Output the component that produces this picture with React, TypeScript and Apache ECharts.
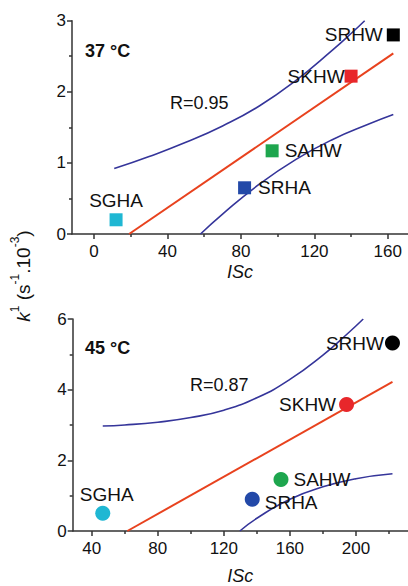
import React, { useEffect, useRef } from "react";
import * as echarts from "echarts";

// ---- Data ----
const names = ["SGHA", "SRHA", "SAHW", "SKHW", "SRHW"];
const colors = ["#1fb7d3", "#2349a8", "#1ea64e", "#e8272b", "#000000"];

// 37 °C panel
const x37 = [12, 82, 97, 140, 163];
const y37 = [0.2, 0.65, 1.17, 2.22, 2.8];
const fit37 = [[19.1, 0], [163, 2.54]];
const upper37 = [[11, 0.92], [30, 1.09], [50, 1.29], [70, 1.52], [90, 1.8], [110, 2.16], [130, 2.59], [140, 2.82], [147.4, 3.0]];
const lower37 = [[58, 0], [70, 0.28], [90, 0.7], [110, 1.05], [130, 1.33], [150, 1.55], [163, 1.68]];

// 45 °C panel
const x45 = [46.7, 137.2, 154.6, 194.3, 222.1];
const y45 = [0.5, 0.9, 1.46, 3.58, 5.32];
const fit45 = [[61.6, 0], [222.1, 4.22]];
const upper45 = [[46.7, 2.97], [60, 3.0], [80, 3.08], [100, 3.21], [120, 3.42], [140, 3.77], [160, 4.29], [180, 4.98], [195, 5.59], [204.4, 6.0]];
const lower45 = [[129.7, 0], [140, 0.36], [160, 0.9], [180, 1.25], [200, 1.48], [222.1, 1.62]];

const xTicks37 = [0, 40, 80, 120, 160];
const xMinor37 = [20, 60, 100, 140];
const xTicks45 = [40, 80, 120, 160, 200];
const xMinor45 = [60, 100, 140, 180, 220];

// label layout per point
const labelPos37: any[] = [
  { position: "top", distance: 3 },
  { position: "right", distance: 7 },
  { position: "right", distance: 6 },
  { position: "left", distance: 0 },
  { position: "left", distance: 4 },
];
const labelPos45: any[] = [
  { position: "top", distance: 2, offset: [4, 0] },
  { position: "right", distance: 5, offset: [0, 3] },
  { position: "right", distance: 5 },
  { position: "left", distance: 3 },
  { position: "left", distance: 1 },
];

const FONT = "Liberation Sans, Arial, sans-serif";
const AXIS_COLOR = "#333333";
const TEXT = "#111111";
const RED = "#e8421e";
const BLUE = "#35359a";

function buildPoints(xs: number[], ys: number[], lp: any[]) {
  return xs.map((x, i) => ({
    value: [x, ys[i]],
    name: names[i],
    itemStyle: { color: colors[i], opacity: 1 },
    label: {
      show: true,
      formatter: names[i],
      color: TEXT,
      fontSize: 19,
      fontFamily: FONT,
      ...lp[i],
    },
  }));
}

function xAxisMain(gridIndex: number, min: number, max: number, ticks: number[], nameGap: number) {
  return {
    type: "value",
    gridIndex,
    min,
    max,
    name: "ISc",
    nameLocation: "middle",
    nameGap,
    nameTextStyle: { fontSize: 18, fontStyle: "italic", color: TEXT, fontFamily: FONT },
    axisLine: { show: true, onZero: false, lineStyle: { color: AXIS_COLOR, width: 1.5 } },
    axisTick: { show: true, customValues: ticks, length: 5, lineStyle: { color: AXIS_COLOR, width: 1.5 } },
    axisLabel: { customValues: ticks, fontSize: 17, color: TEXT, margin: 9, fontFamily: FONT },
    splitLine: { show: false },
  };
}

function xAxisMinor(gridIndex: number, min: number, max: number, ticks: number[]) {
  return {
    type: "value",
    gridIndex,
    min,
    max,
    position: "bottom",
    axisLine: { show: false, onZero: false },
    axisTick: { show: true, customValues: ticks, length: 3, lineStyle: { color: AXIS_COLOR, width: 1.5 } },
    axisLabel: { show: false },
    splitLine: { show: false },
  };
}

function yAxisDef(gridIndex: number, max: number, interval: number) {
  return {
    type: "value",
    gridIndex,
    min: 0,
    max,
    interval,
    axisLine: { show: true, onZero: false, lineStyle: { color: AXIS_COLOR, width: 1.5 } },
    axisTick: { show: true, length: 5, lineStyle: { color: AXIS_COLOR, width: 1.5 } },
    minorTick: { show: true, splitNumber: 2, length: 3, lineStyle: { color: AXIS_COLOR, width: 1.5 } },
    axisLabel: { fontSize: 17, color: TEXT, margin: 6, fontFamily: FONT },
    splitLine: { show: false },
    minorSplitLine: { show: false },
  };
}

function lineSeries(data: number[][], xi: number, yi: number, color: string, width: number, smooth: boolean) {
  return {
    type: "line",
    xAxisIndex: xi,
    yAxisIndex: yi,
    data,
    smooth,
    showSymbol: false,
    symbol: "none",
    lineStyle: { color, width },
    z: 2,
    silent: true,
  };
}

export default function App() {
  const ref = useRef<HTMLDivElement>(null);
  useEffect(() => {
    if (!ref.current) return;
    const chart = echarts.init(ref.current, null, { renderer: "svg" });
    chart.setOption({
      animation: false,
      backgroundColor: "#ffffff",
      textStyle: { fontFamily: FONT },
      grid: [
        { left: 72, right: 0, top: 20.7, height: 213.3 },
        { left: 72.7, right: 0, top: 319, height: 213.7 },
      ],
      xAxis: [
        xAxisMain(0, -12, 171, xTicks37, 29),
        xAxisMinor(0, -12, 171, xMinor37),
        xAxisMain(1, 28.5, 231.5, xTicks45, 36),
        xAxisMinor(1, 28.5, 231.5, xMinor45),
      ],
      yAxis: [yAxisDef(0, 3, 1), yAxisDef(1, 6, 2)],
      series: [
        lineSeries(upper37, 0, 0, BLUE, 1.6, true),
        lineSeries(lower37, 0, 0, BLUE, 1.6, true),
        lineSeries(fit37, 0, 0, RED, 2, false),
        {
          type: "scatter",
          xAxisIndex: 0,
          yAxisIndex: 0,
          symbol: "rect",
          symbolSize: 13,
          itemStyle: { opacity: 1 },
          data: buildPoints(x37, y37, labelPos37),
          z: 3,
        },
        lineSeries(upper45, 2, 1, BLUE, 1.6, true),
        lineSeries(lower45, 2, 1, BLUE, 1.6, true),
        lineSeries(fit45, 2, 1, RED, 2, false),
        {
          type: "scatter",
          xAxisIndex: 2,
          yAxisIndex: 1,
          symbol: "circle",
          symbolSize: 15,
          itemStyle: { opacity: 1 },
          data: buildPoints(x45, y45, labelPos45),
          z: 3,
        },
      ],
      graphic: [
        {
          type: "text",
          left: 85,
          top: 42,
          style: { text: "37 °C", fontSize: 18, fontWeight: "bold", fill: TEXT, fontFamily: FONT },
        },
        {
          type: "text",
          left: 85,
          top: 339,
          style: { text: "45 °C", fontSize: 18, fontWeight: "bold", fill: TEXT, fontFamily: FONT },
        },
        {
          type: "text",
          left: 170,
          top: 94,
          style: { text: "R=0.95", fontSize: 18, fill: TEXT, fontFamily: FONT },
        },
        {
          type: "text",
          left: 190,
          top: 376,
          style: { text: "R=0.87", fontSize: 18, fill: TEXT, fontFamily: FONT },
        },
        {
          type: "text",
          x: 21,
          y: 276,
          rotation: Math.PI / 2,
          style: {
            text: "{k|k}{sup|1}{n| (s}{sup|-1}{n|.10}{sup|-3}{n|)}",
            align: "center",
            verticalAlign: "middle",
            fill: TEXT,
            fontFamily: FONT,
            rich: {
              k: { fontSize: 19, fontStyle: "italic", lineHeight: 24, verticalAlign: "bottom", fill: TEXT, fontFamily: FONT },
              n: { fontSize: 19, lineHeight: 24, verticalAlign: "bottom", fill: TEXT, fontFamily: FONT },
              sup: { fontSize: 12, lineHeight: 24, verticalAlign: "top", fill: TEXT, fontFamily: FONT },
            },
          },
        },
      ],
    });
    return () => chart.dispose();
  }, []);
  return (
    <div
      ref={ref}
      style={{ position: "absolute", left: 0, top: 0, width: 408, height: 586 }}
    />
  );
}
